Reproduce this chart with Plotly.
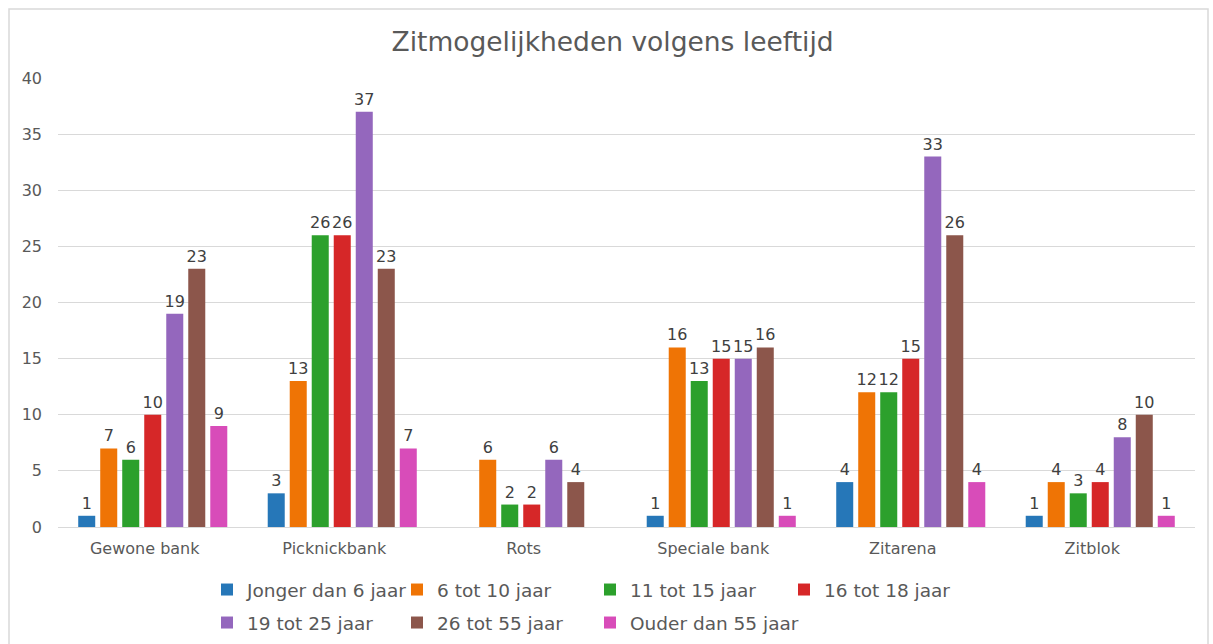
import plotly.graph_objects as go

categories = ["Gewone bank", "Picknickbank", "Rots", "Speciale bank", "Zitarena", "Zitblok"]
series_names = ["Jonger dan 6 jaar", "6 tot 10 jaar", "11 tot 15 jaar", "16 tot 18 jaar",
                "19 tot 25 jaar", "26 tot 55 jaar", "Ouder dan 55 jaar"]
jonger_6 = [1, 3, None, 1, 4, 1]
tot_6_10 = [7, 13, 6, 16, 12, 4]
tot_11_15 = [6, 26, 2, 13, 12, 3]
tot_16_18 = [10, 26, 2, 15, 15, 4]
tot_19_25 = [19, 37, 6, 15, 33, 8]
tot_26_55 = [23, 23, 4, 16, 26, 10]
ouder_55 = [9, 7, None, 1, 4, 1]
series_values = [jonger_6, tot_6_10, tot_11_15, tot_16_18, tot_19_25, tot_26_55, ouder_55]
colors = ["#2677b8", "#ef7405", "#2ca02c", "#d62728", "#9467bd", "#8c564b", "#d84cb9"]
y_ticks = [0, 5, 10, 15, 20, 25, 30, 35, 40]

FONT = "DejaVu Sans"
GRAY = "#595959"

W, H = 1213, 644
ml, mr, mt, mb = 58, 18, 78, 117
pw, ph = W - ml - mr, H - mt - mb

def px_x(p):
    return (p - ml) / pw

def px_y(p):
    return (H - mb - p) / ph

# legend entry anchor positions (pixels): columns and rows as in the reference
legend_cols_px = [207, 397, 590, 784]
legend_rows_px = [590, 623]

fig = go.Figure()
legend_layouts = {}
for i, (name, vals, col) in enumerate(zip(series_names, series_values, colors)):
    key = "legend" if i == 0 else f"legend{i + 1}"
    fig.add_trace(go.Bar(
        x=categories, y=vals, name=name,
        marker=dict(color=col, line=dict(width=0)),
        text=[("" if v is None else str(v)) for v in vals],
        textposition="outside", constraintext="none", cliponaxis=False,
        textfont=dict(family=FONT, size=16, color="#404040"),
        legend=key,
    ))
    legend_layouts[key] = dict(
        orientation="h",
        font=dict(family=FONT, size=18.5, color=GRAY),
        bgcolor="rgba(0,0,0,0)", xanchor="left", yanchor="middle",
        itemclick=False,
        x=px_x(legend_cols_px[i % 4]), y=px_y(legend_rows_px[i // 4]),
    )

fig.update_layout(
    width=W, height=H,
    margin=dict(l=ml, r=mr, t=mt, b=mb, autoexpand=False),
    paper_bgcolor="white", plot_bgcolor="white",
    title=dict(text="Zitmogelijkheden volgens leeftijd", x=0.505, xanchor="center",
               y=1 - 42 / H, yanchor="middle", yref="container",
               font=dict(family=FONT, size=26.5, color=GRAY)),
    barmode="group", bargap=0.187, bargroupgap=0.227,
    showlegend=True,
    xaxis=dict(showgrid=False, showline=False, ticks="", ticklabelstandoff=10,
               ticklabelshift=-8,
               tickfont=dict(family=FONT, size=16, color=GRAY)),
    yaxis=dict(range=[0, 40], tickvals=y_ticks, showgrid=True, gridcolor="#d9d9d9",
               gridwidth=1, zeroline=True, zerolinecolor="#d9d9d9", zerolinewidth=1,
               showline=False, ticks="", ticklabelstandoff=15,
               tickfont=dict(family=FONT, size=16, color=GRAY)),
    shapes=[dict(type="rect", xref="paper", yref="paper",
                 x0=px_x(9), x1=px_x(1208), y0=px_y(660), y1=px_y(9),
                 line=dict(color="#d9d9d9", width=1.5), fillcolor="rgba(0,0,0,0)",
                 layer="below")],
    **legend_layouts,
)

fig.write_html("out.html", config={"displayModeBar": False},
               post_script="document.body.style.margin='0';document.body.style.overflow='hidden';")
